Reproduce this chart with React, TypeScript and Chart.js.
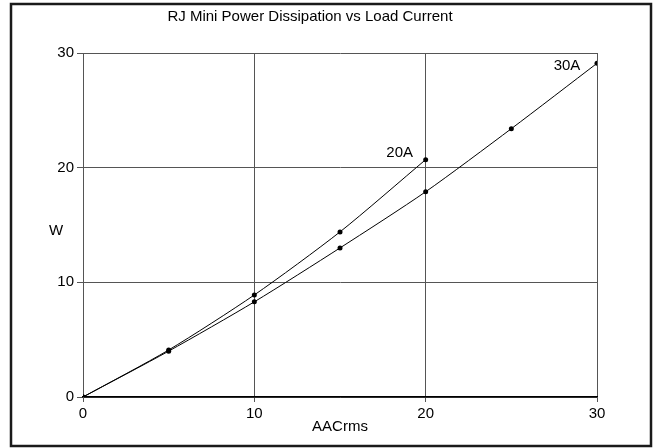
import React, { useEffect, useRef } from "react";
import { Chart, registerables } from "chart.js";

Chart.register(...registerables);

const currentA: number[] = [0, 5, 10, 15, 20, 25, 30];
const watts20A: number[] = [0, 4.1, 8.9, 14.4, 20.7];
const watts30A: number[] = [0, 4.0, 8.3, 13.0, 17.9, 23.4, 29.1];
const titleText = "RJ Mini Power Dissipation vs Load Current";
const xTitle = "AACrms";
const yTitle = "W";
const seriesNames = ["20A", "30A"];

const FONT = "Liberation Sans, Arial, sans-serif";
const FS = 15;

const overlay = {
  id: "overlay",
  afterDraw(chart: any) {
    const { ctx, chartArea, scales } = chart;
    ctx.save();
    ctx.strokeStyle = "#1a1a1a";
    ctx.lineWidth = 2.5;
    ctx.strokeRect(11, 4, 640, 442);
    ctx.fillStyle = "#000";
    ctx.font = `${FS}px ${FONT}`;
    ctx.textAlign = "center";
    ctx.textBaseline = "middle";
    ctx.fillText(titleText, 310, 17);
    ctx.fillText(yTitle, 56, (chartArea.top + chartArea.bottom) / 2 + 6);
    const x = scales.x;
    const y = scales.y;
    const l20x = x.getPixelForValue(currentA[watts20A.length - 1]);
    const l20y = y.getPixelForValue(watts20A[watts20A.length - 1]);
    ctx.fillText(seriesNames[0], l20x - 26, l20y - 7);
    const l30x = x.getPixelForValue(currentA[watts30A.length - 1]);
    const l30y = y.getPixelForValue(watts30A[watts30A.length - 1]);
    ctx.fillText(seriesNames[1], l30x - 30, l30y + 3);
    ctx.restore();
  },
};

export default function App() {
  const ref = useRef<HTMLCanvasElement | null>(null);
  useEffect(() => {
    if (!ref.current) return;
    const mk = (vals: number[]) => vals.map((v, i) => ({ x: currentA[i], y: v }));
    const line = (label: string, vals: number[]) => ({
      label,
      data: mk(vals),
      borderColor: "#000",
      backgroundColor: "#000",
      borderWidth: 1,
      pointRadius: 2.5,
      pointBorderWidth: 0,
      tension: 0.25,
    });
    const chart = new Chart(ref.current, {
      type: "line",
      data: {
        datasets: [line(seriesNames[0], watts20A), line(seriesNames[1], watts30A)],
      },
      options: {
        responsive: false,
        animation: false,
        layout: { padding: { left: 0, right: 58, top: 53, bottom: 12 } },
        plugins: { legend: { display: false }, title: { display: false }, tooltip: { enabled: false } },
        scales: {
          x: {
            type: "linear",
            min: 0,
            max: 30,
            ticks: { stepSize: 10, color: "#000", font: { family: FONT, size: FS }, padding: 3, maxRotation: 0 },
            grid: { color: "#555", lineWidth: 1, tickLength: 5, drawTicks: true, tickColor: "#555" },
            border: { color: "#000", width: 1.5 },
            title: { display: true, text: xTitle, color: "#000", font: { family: FONT, size: FS }, padding: { top: 0, bottom: 0 } },
            afterFit: (s: any) => {
              s.height = 39;
            },
          },
          y: {
            min: 0,
            max: 30,
            ticks: { stepSize: 10, color: "#000", font: { family: FONT, size: FS }, padding: 3 },
            grid: { color: "#555", lineWidth: 1, tickLength: 6, tickColor: "#555" },
            border: { color: "#555", width: 1 },
            afterFit: (s: any) => {
              s.width = 83;
            },
          },
        },
      },
      plugins: [overlay],
    });
    return () => chart.destroy();
  }, []);
  return (
    <div style={{ position: "fixed", left: 0, top: 0, width: 655, height: 448, background: "#fff" }}>
      <canvas ref={ref} width={655} height={448} style={{ display: "block" }} />
    </div>
  );
}
